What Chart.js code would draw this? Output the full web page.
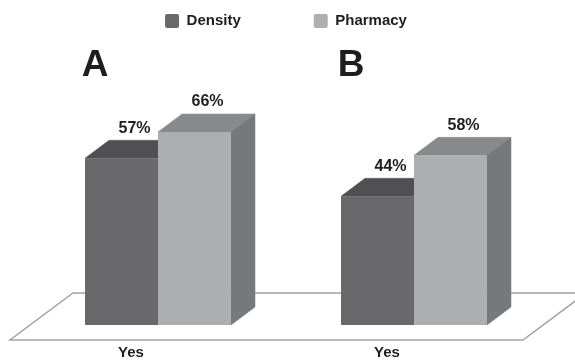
<!DOCTYPE html>
<html><head><meta charset="utf-8">
<script src="https://cdn.jsdelivr.net/npm/chart.js@4"></script>
<style>html,body{margin:0;padding:0;background:#fff}#wrap{width:575px;height:360px;position:relative}</style>
</head><body><div id="wrap"><canvas id="c" width="575" height="360"></canvas></div>
<script>
// ---- data ----
const categories = ["Yes", "Yes"];
const groupTitles = ["A", "B"];
const seriesNames = ["Density", "Pharmacy"];
const densityValues = [57, 44];
const pharmacyValues = [66, 58];

// ---- styles ----
const FONT = '"Liberation Sans", Arial, Helvetica, sans-serif';
const TEXT = '#1e1e1e';
const frontColors = ['#69696b', '#adaeb0'];
const topColors = ['#505053', '#88898b'];
const sideColors = ['#5a5a5d', '#77787b'];
const DX = 24, DY = -18;

const threeD = {
  id: 'threeD',
  beforeDatasetsDraw(chart) {
    const { ctx, chartArea: ca } = chart;
    ctx.save();
    // floor
    const fy = ca.bottom + 15, fl = ca.left - 20, fr = ca.right - 19, bx = 63, by = -47;
    ctx.beginPath();
    ctx.moveTo(fl, fy); ctx.lineTo(fr, fy); ctx.lineTo(fr + bx, fy + by); ctx.lineTo(fl + bx, fy + by); ctx.closePath();
    ctx.fillStyle = '#fff'; ctx.fill();
    ctx.strokeStyle = '#a3a3a3'; ctx.lineWidth = 1.5; ctx.stroke();
    // tops and sides
    chart.data.datasets.forEach((ds, di) => {
      chart.getDatasetMeta(di).data.forEach(bar => {
        const { x, y, base, width } = bar.getProps(['x', 'y', 'base', 'width'], true);
        const l = x - width / 2, r = x + width / 2;
        ctx.fillStyle = topColors[di]; ctx.strokeStyle = topColors[di]; ctx.lineWidth = 0.5;
        ctx.beginPath(); ctx.moveTo(l, y); ctx.lineTo(r, y); ctx.lineTo(r + DX, y + DY); ctx.lineTo(l + DX, y + DY); ctx.closePath();
        ctx.fill(); ctx.stroke();
        ctx.fillStyle = sideColors[di]; ctx.strokeStyle = sideColors[di];
        ctx.beginPath(); ctx.moveTo(r, y); ctx.lineTo(r + DX, y + DY); ctx.lineTo(r + DX, base + DY); ctx.lineTo(r, base); ctx.closePath();
        ctx.fill(); ctx.stroke();
      });
    });
    ctx.restore();
  },
  afterDraw(chart) {
    const { ctx, chartArea: ca } = chart;
    ctx.save();
    ctx.fillStyle = TEXT; ctx.textAlign = 'center'; ctx.textBaseline = 'middle';
    ctx.font = 'bold 16px ' + FONT;
    chart.data.datasets.forEach((ds, di) => {
      chart.getDatasetMeta(di).data.forEach((bar, i) => {
        ctx.fillText(ds.data[i] + '%', bar.x + 13, bar.y - 30);
      });
    });
    ctx.font = 'bold 37px ' + FONT;
    const xs = chart.scales.x;
    groupTitles.forEach((t, i) => ctx.fillText(t, xs.getPixelForValue(i) - 63, ca.top + 33));
    ctx.restore();
  }
};

new Chart(document.getElementById('c'), {
  type: 'bar',
  data: {
    labels: categories,
    datasets: [
      { label: seriesNames[0], data: densityValues, backgroundColor: frontColors[0], borderWidth: 0 },
      { label: seriesNames[1], data: pharmacyValues, backgroundColor: frontColors[1], borderWidth: 0 }
    ]
  },
  options: {
    responsive: false,
    animation: false,
    devicePixelRatio: 1,
    layout: { padding: { top: -59.5, left: 30, right: 33, bottom: 0 } },
    datasets: { bar: { categoryPercentage: 0.5703, barPercentage: 1.0 } },
    plugins: {
      tooltip: { enabled: false },
      legend: {
        position: 'top',
        maxHeight: 92,
        labels: {
          boxWidth: 14, boxHeight: 14, padding: 73, color: TEXT,
          useBorderRadius: true, borderRadius: 2,
          font: { family: FONT, size: 15, weight: 'bold' }
        }
      }
    },
    scales: {
      x: {
        grid: { display: false, drawTicks: false },
        border: { display: false },
        ticks: { color: TEXT, padding: 19, labelOffset: -27, font: { family: FONT, size: 15, weight: 'bold' } },
        afterFit(s) { s.height = 35; }
      },
      y: { display: false, min: 0, max: 100 }
    }
  },
  plugins: [threeD]
});
</script>
</body></html>
